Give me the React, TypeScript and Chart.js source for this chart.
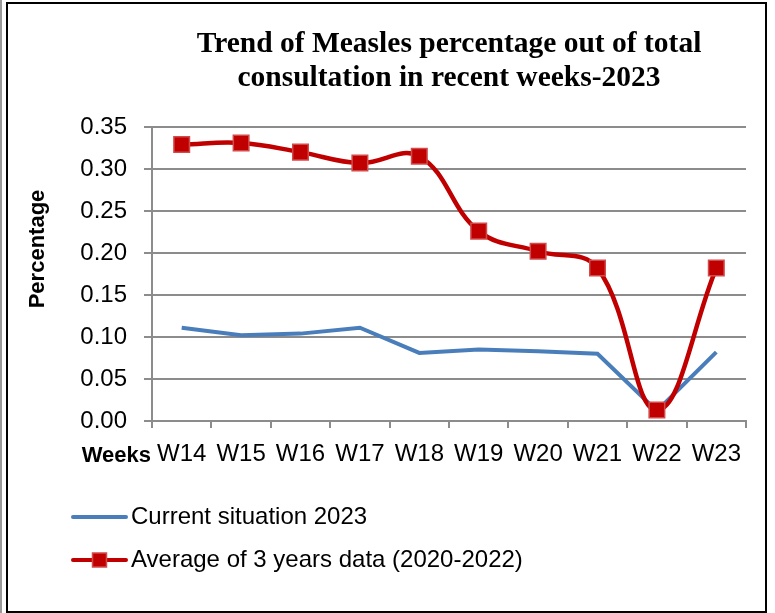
import React, { useEffect, useRef } from 'react';
import { Chart, registerables } from 'chart.js';

Chart.register(...registerables);

const weeks = ['W14', 'W15', 'W16', 'W17', 'W18', 'W19', 'W20', 'W21', 'W22', 'W23'];
const current2023 = [0.111, 0.102, 0.104, 0.111, 0.081, 0.085, 0.083, 0.080, 0.012, 0.082];
const average3Years = [0.329, 0.331, 0.320, 0.307, 0.315, 0.226, 0.202, 0.182, 0.013, 0.182];
const yMin = 0;
const yMax = 0.35;
const yStep = 0.05;
const titleLines = ['Trend of Measles percentage out of total', 'consultation in recent weeks-2023'];
const seriesNames = ['Current situation 2023', 'Average of 3 years data (2020-2022)'];
const xAxisTitle = 'Weeks';
const yAxisTitle = 'Percentage';

const BLUE = '#4A7EBB';
const RED = '#C00000';
const RED_EDGE = '#D24B4B';
const GRID = '#8C8C8C';
const SANS = "'Liberation Sans', Arial, sans-serif";
const SERIF = "'Liberation Serif', 'Times New Roman', serif";

const extrasPlugin = {
  id: 'extras',
  afterDraw(chart: any) {
    const { ctx, chartArea } = chart;
    ctx.save();
    // y-axis title
    ctx.fillStyle = '#000';
    ctx.font = `bold 22px ${SANS}`;
    ctx.textAlign = 'center';
    ctx.textBaseline = 'middle';
    ctx.translate(38, 249);
    ctx.rotate(-Math.PI / 2);
    ctx.fillText(yAxisTitle, 0, 0);
    ctx.restore();

    ctx.save();
    // x-axis title at left of tick labels
    ctx.fillStyle = '#000';
    ctx.font = `bold 22px ${SANS}`;
    ctx.textAlign = 'right';
    ctx.textBaseline = 'middle';
    ctx.fillText(xAxisTitle, chartArea.left - 1, 456);

    // legend
    const items = [
      { y: 517, color: BLUE, marker: false },
      { y: 560, color: RED, marker: true },
    ];
    items.forEach((it, i) => {
      ctx.strokeStyle = it.color;
      ctx.lineWidth = 4;
      ctx.lineCap = 'round';
      ctx.beginPath();
      ctx.moveTo(73, it.y);
      ctx.lineTo(126, it.y);
      ctx.stroke();
      if (it.marker) {
        ctx.fillStyle = RED;
        ctx.strokeStyle = RED_EDGE;
        ctx.lineWidth = 1.5;
        ctx.beginPath();
        ctx.rect(99.5 - 7, it.y - 7, 14, 14);
        ctx.fill();
        ctx.stroke();
      }
      ctx.fillStyle = '#000';
      ctx.font = `24px ${SANS}`;
      ctx.textAlign = 'left';
      ctx.textBaseline = 'middle';
      ctx.fillText(seriesNames[i], 131, it.y);
    });
    ctx.restore();
  },
};

export default function App() {
  const canvasRef = useRef<HTMLCanvasElement | null>(null);

  useEffect(() => {
    if (!canvasRef.current) return;
    const chart = new Chart(canvasRef.current, {
      type: 'line',
      data: {
        labels: weeks,
        datasets: [
          {
            label: seriesNames[1],
            data: average3Years,
            borderColor: RED,
            backgroundColor: RED,
            borderWidth: 4.5,
            tension: 0.4,
            pointStyle: 'rect',
            pointRadius: 11,
            pointHoverRadius: 11,
            pointBackgroundColor: RED,
            pointBorderColor: RED_EDGE,
            pointBorderWidth: 1.5,
            order: 0,
          },
          {
            label: seriesNames[0],
            data: current2023,
            borderColor: BLUE,
            backgroundColor: BLUE,
            borderWidth: 4,
            tension: 0,
            pointRadius: 0,
            pointHoverRadius: 0,
            order: 1,
          },
        ],
      },
      options: {
        responsive: false,
        animation: false,
        layout: { padding: { left: 0, right: 29, top: 0, bottom: 132 } },
        plugins: {
          legend: { display: false },
          tooltip: { enabled: false },
          title: {
            display: true,
            text: titleLines,
            fullSize: false,
            color: '#000',
            font: { family: SERIF, size: 29.5, weight: 'bold', lineHeight: 1.16 },
            padding: { top: 27, bottom: 31.5 },
          },
        },
        scales: {
          x: {
            offset: true,
            grid: {
              display: true,
              offset: true,
              drawOnChartArea: false,
              drawTicks: true,
              tickLength: 7,
              color: GRID,
              lineWidth: 2,
            },
            border: { display: true, color: GRID, width: 2 },
            ticks: {
              color: '#000',
              font: { family: SANS, size: 24 },
              padding: 12,
              maxRotation: 0,
              autoSkip: false,
            },
            afterFit: (scale: any) => {
              scale.height = 60;
            },
          },
          y: {
            min: yMin,
            max: yMax,
            grid: {
              color: GRID,
              lineWidth: 2,
              tickLength: 8,
              drawTicks: true,
            },
            border: { display: true, color: GRID, width: 2 },
            ticks: {
              stepSize: yStep,
              color: '#000',
              font: { family: SANS, size: 24 },
              padding: 17,
              callback: (v: any) => Number(v).toFixed(2),
            },
            afterFit: (scale: any) => {
              scale.width = 152;
            },
          },
        },
      },
      plugins: [extrasPlugin],
    });
    return () => chart.destroy();
  }, []);

  return (
    <div style={{ position: 'fixed', left: 0, top: 0, width: 775, height: 613, background: '#fff' }}>
      <canvas ref={canvasRef} width={775} height={613} style={{ width: 775, height: 613, display: 'block' }} />
      <div
        style={{
          position: 'absolute',
          left: 6,
          top: 2,
          width: 761,
          height: 611,
          border: '2px solid #000',
          boxSizing: 'border-box',
          pointerEvents: 'none',
        }}
      />
      <div style={{ position: 'absolute', left: 0, top: 0, width: 2, height: 613, background: '#9a9a9a' }} />
    </div>
  );
}
